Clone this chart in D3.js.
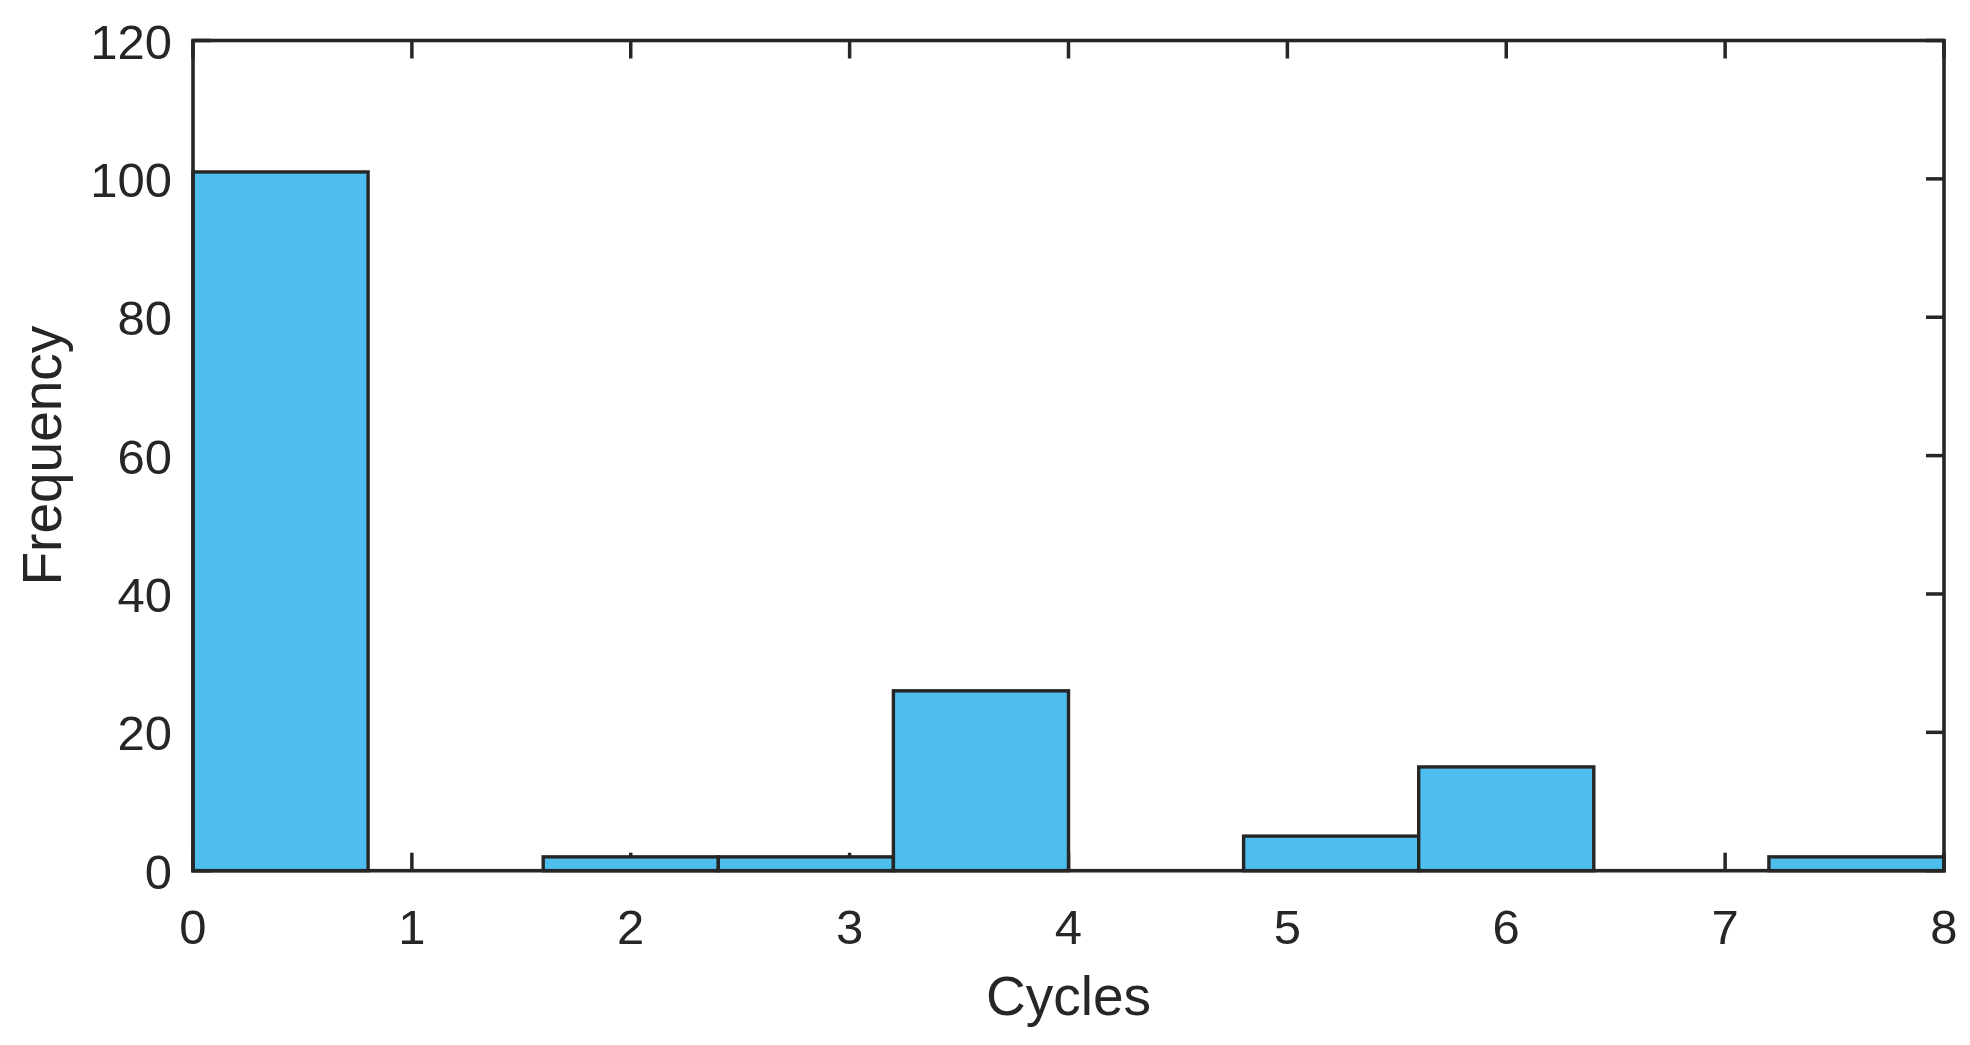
<!DOCTYPE html>
<html>
<head>
<meta charset="utf-8">
<script src="https://cdn.jsdelivr.net/npm/d3@7"></script>
<style>
  body { margin: 0; background: #fff; }
  text { font-family: "Liberation Sans", Arial, Helvetica, sans-serif; fill: #262626; }
</style>
</head>
<body>
<svg width="1970" height="1045"></svg>
<script>
// histogram bins (Cycles), width 0.8
const binEdges = [0, 0.8, 1.6, 2.4, 3.2, 4.0, 4.8, 5.6, 6.4, 7.2, 8.0];
const counts = [101, 0, 2, 2, 26, 0, 5, 15, 0, 2];
const xTicks = [0, 1, 2, 3, 4, 5, 6, 7, 8];
const yTicks = [0, 20, 40, 60, 80, 100, 120];

const ink = "#262626";
const plotLeft = 193, plotRight = 1944, plotTop = 40.5, plotBottom = 870.7;

const svg = d3.select("svg");

const x = d3.scaleLinear().domain([0, 8]).range([plotLeft, plotRight]);
const y = d3.scaleLinear().domain([0, 120]).range([plotBottom, plotTop]);

const bins = counts.map((c, i) => ({ x0: binEdges[i], x1: binEdges[i + 1], n: c }));

// ticks, inward on all four sides (drawn under the bars, like the original)
const tickLen = 18;
const ticks = svg.append("g").attr("stroke", ink).attr("stroke-width", 3.5);
xTicks.forEach(t => {
  ticks.append("line").attr("x1", x(t)).attr("x2", x(t)).attr("y1", plotBottom).attr("y2", plotBottom - tickLen);
  ticks.append("line").attr("x1", x(t)).attr("x2", x(t)).attr("y1", plotTop).attr("y2", plotTop + tickLen);
});
yTicks.forEach(t => {
  ticks.append("line").attr("x1", plotLeft).attr("x2", plotLeft + tickLen).attr("y1", y(t)).attr("y2", y(t));
  ticks.append("line").attr("x1", plotRight).attr("x2", plotRight - tickLen).attr("y1", y(t)).attr("y2", y(t));
});

// bars
svg.append("g").selectAll("rect")
  .data(bins.filter(d => d.n > 0))
  .enter()
  .append("rect")
  .attr("x", d => x(d.x0))
  .attr("y", d => y(d.n))
  .attr("width", d => x(d.x1) - x(d.x0))
  .attr("height", d => y(0) - y(d.n))
  .attr("fill", "#4DBEEE")
  .attr("stroke", ink)
  .attr("stroke-width", 3.4);

// box
svg.append("rect")
  .attr("x", plotLeft).attr("y", plotTop)
  .attr("width", plotRight - plotLeft).attr("height", plotBottom - plotTop)
  .attr("fill", "none").attr("stroke", ink).attr("stroke-width", 3.6);

// tick labels
svg.append("g").selectAll("text")
  .data(xTicks).enter().append("text")
  .attr("x", d => x(d)).attr("y", plotBottom + 73)
  .attr("text-anchor", "middle")
  .attr("font-size", 49)
  .text(d => d);

svg.append("g").selectAll("text")
  .data(yTicks).enter().append("text")
  .attr("x", plotLeft - 21).attr("y", d => y(d))
  .attr("dy", "0.37em")
  .attr("text-anchor", "end")
  .attr("font-size", 49)
  .text(d => d);

// axis labels
svg.append("text")
  .attr("x", (plotLeft + plotRight) / 2).attr("y", 1015)
  .attr("text-anchor", "middle")
  .attr("font-size", 55)
  .text("Cycles");

svg.append("text")
  .attr("transform", `translate(61,${(plotTop + plotBottom) / 2}) rotate(-90)`)
  .attr("text-anchor", "middle")
  .attr("font-size", 55)
  .text("Frequency");
</script>
</body>
</html>
